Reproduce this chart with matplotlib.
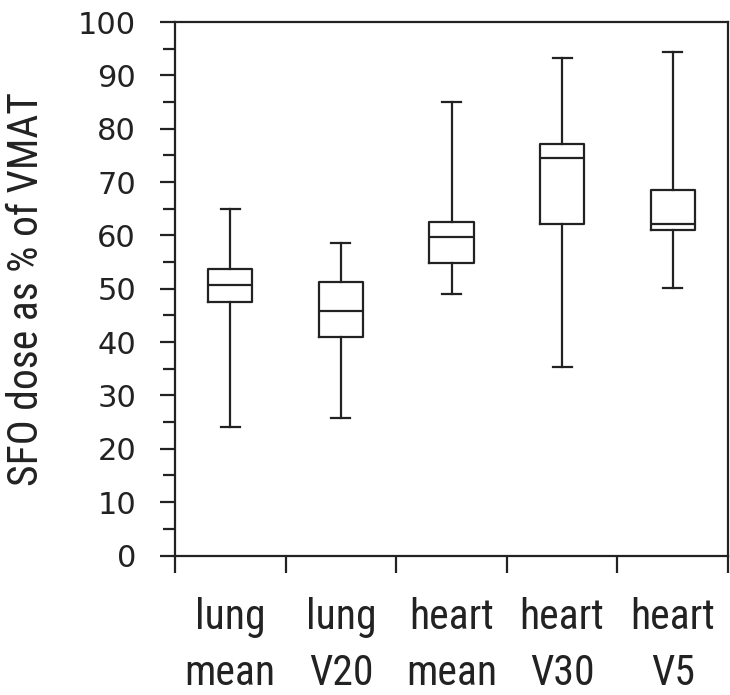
import numpy as np
import matplotlib.pyplot as plt
from matplotlib import font_manager

categories = ['lung\nmean', 'lung\nV20', 'heart\nmean', 'heart\nV30', 'heart\nV5']
whisker_low = [24.0, 25.7, 49.1, 35.3, 50.1]
q1 = [47.6, 41.0, 54.8, 62.1, 61.1]
median = [50.8, 45.9, 59.7, 74.6, 62.1]
q3 = [53.7, 51.3, 62.5, 77.1, 68.5]
whisker_high = [64.9, 58.6, 85.1, 93.3, 94.3]


def pick_font(wanted):
    have = {f.name for f in font_manager.fontManager.ttflist}
    for name in wanted:
        if name in have:
            return name
    return 'DejaVu Sans'


def main():
    ink = '#222222'
    narrow = pick_font(['Roboto Condensed', 'Liberation Sans Narrow'])
    if narrow in ('Liberation Sans Narrow', 'Roboto Condensed'):
        label_size = 30
    else:
        narrow = pick_font(['Liberation Sans', 'Roboto'])
        label_size = 25

    fig = plt.figure(figsize=(7.3, 6.95), dpi=100)
    ax = fig.add_axes([0.2397, 0.2007, 0.7576, 0.7676])

    stats = []
    for i in range(len(categories)):
        stats.append(dict(whislo=whisker_low[i], q1=q1[i], med=median[i],
                          q3=q3[i], whishi=whisker_high[i], fliers=[]))

    line = dict(color=ink, linewidth=1.6)
    ax.bxp(stats, positions=np.arange(1, len(categories) + 1), widths=0.4,
           capwidths=0.17, showfliers=False,
           boxprops=line, whiskerprops=line, capprops=line,
           medianprops=line)

    ax.set_xlim(0.5, len(categories) + 0.5)
    ax.set_ylim(0, 100)

    # y axis: labelled every 10, minor every 5
    ax.set_yticks(np.arange(0, 101, 10))
    ax.set_yticks(np.arange(5, 100, 10), minor=True)
    ax.tick_params(axis='y', which='major', direction='out', length=11,
                   width=1.6, color=ink, labelsize=22, labelcolor=ink, pad=17)
    ax.tick_params(axis='y', which='minor', direction='out', length=9,
                   width=1.6, color=ink)

    # x axis: ticks at group borders, labels at centres
    ax.set_xticks(np.arange(0.5, len(categories) + 1, 1.0))
    ax.set_xticklabels([])
    ax.set_xticks(np.arange(1, len(categories) + 1), minor=True)
    ax.set_xticklabels(categories, minor=True)
    ax.tick_params(axis='x', which='major', direction='out', length=12,
                   width=1.6, color=ink)
    ax.tick_params(axis='x', which='minor', length=0, pad=30)
    for t in ax.get_xticklabels(minor=True):
        t.set_family(narrow)
        t.set_fontsize(label_size)
        t.set_color(ink)
        t.set_linespacing(1.45)

    for s in ax.spines.values():
        s.set_linewidth(1.6)
        s.set_color(ink)

    ax.set_ylabel('SFO dose as % of VMAT', family=narrow, fontsize=label_size,
                  color=ink, labelpad=22)

    fig.savefig('out.png', dpi=100)


if __name__ == '__main__':
    main()
